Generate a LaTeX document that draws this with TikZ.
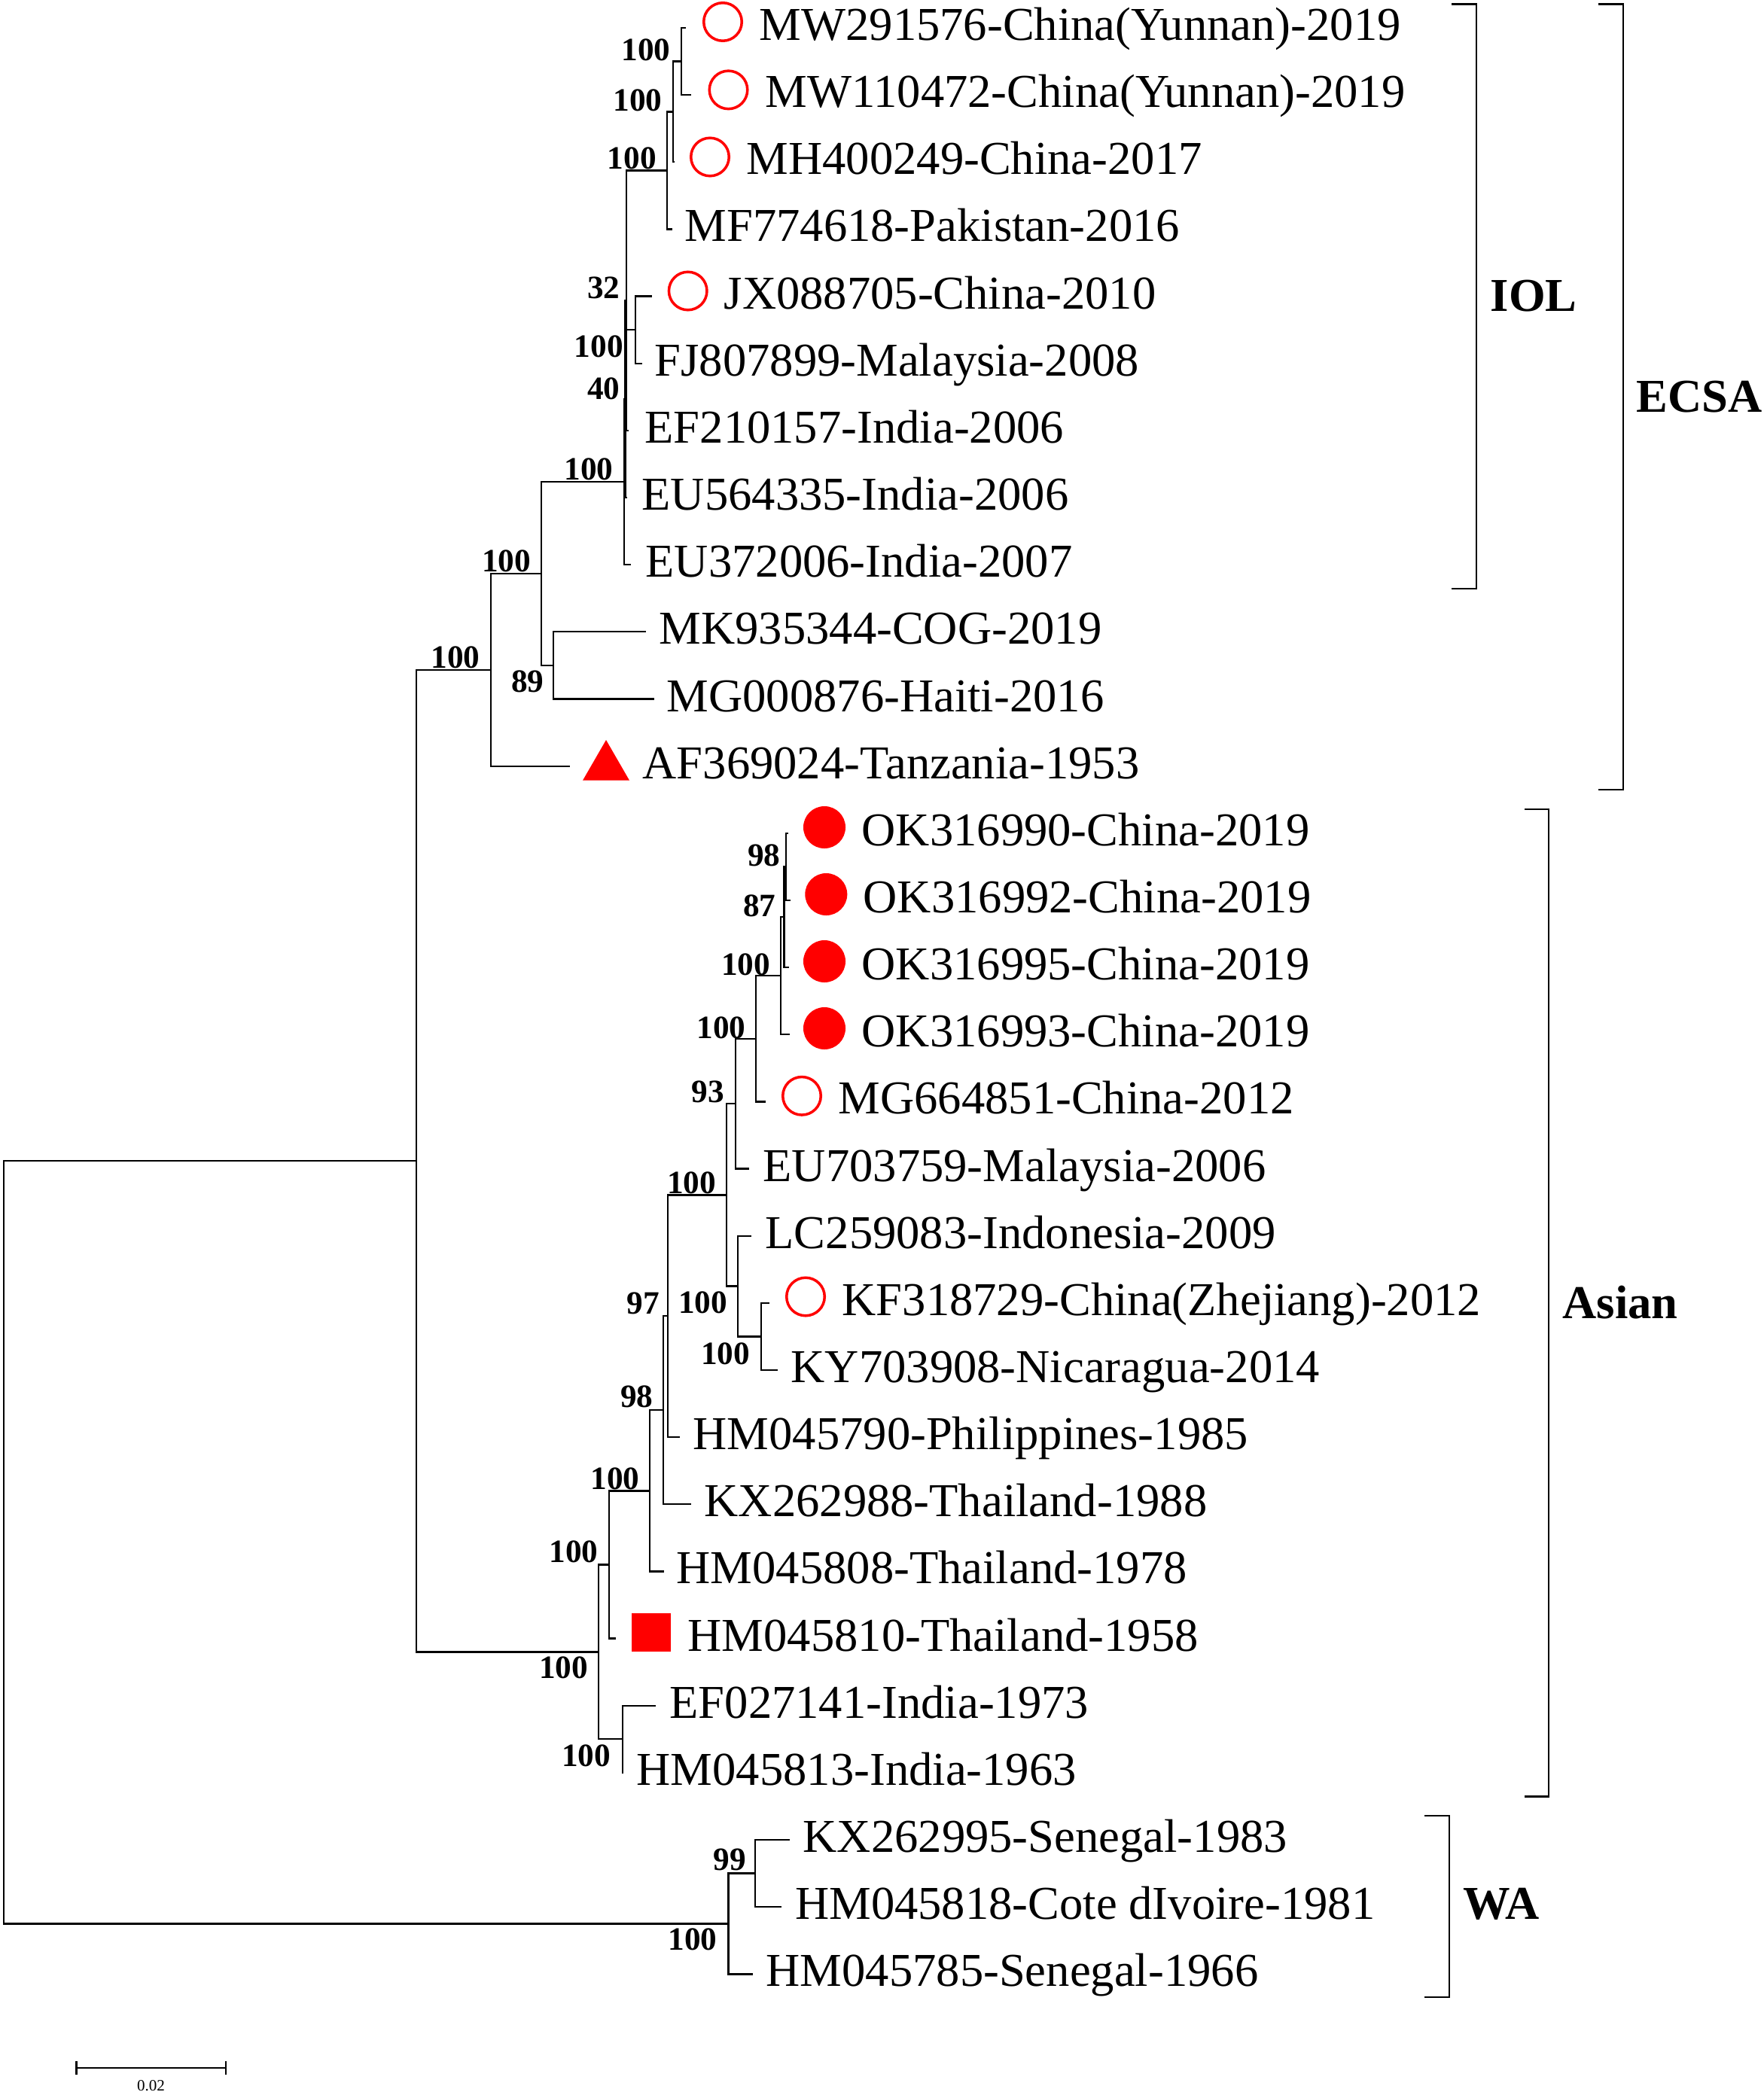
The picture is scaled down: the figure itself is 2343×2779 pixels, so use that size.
\documentclass[tikz,border=0pt]{standalone}
\usepackage{fontspec}
\setmainfont{Liberation Serif}
\usetikzlibrary{shapes.geometric}

\begin{document}
\begin{tikzpicture}[x=0.01cm, y=-0.01cm,
    br/.style={line width=.65pt},
    taxon/.style={anchor=base west, inner sep=0pt, font=\fontsize{17.8}{20}\selectfont},
    boot/.style={anchor=east, inner sep=0pt, font=\bfseries\fontsize{12.3}{14}\selectfont},
    clade/.style={anchor=base west, inner sep=0pt, font=\bfseries\fontsize{17.8}{20}\selectfont},
    opendot/.style={circle, draw=red, line width=1pt, minimum size=.505cm, inner sep=0pt},
    fulldot/.style={circle, fill=red, minimum size=.56cm, inner sep=0pt},
    tri/.style={regular polygon, regular polygon sides=3, fill=red, minimum size=.716cm, inner sep=0pt},
    sq/.style={rectangle, fill=red, minimum width=.525cm, minimum height=.51cm, inner sep=0pt}]
    \useasboundingbox (0,0) rectangle (2343,2779);

        %%tips
        \coordinate (e0) at (911,37);
        \coordinate (e1) at (918,126.15);
        \coordinate (e2) at (896,215.3);
        \coordinate (e3) at (893,304.45);
        \coordinate (e4) at (866,393.6);
        \coordinate (e5) at (853,482.75);
        \coordinate (e6) at (835,571.9);
        \coordinate (e7) at (833,661.05);
        \coordinate (e8) at (838,750.2);
        \coordinate (e9) at (858,839.35);
        \coordinate (e10) at (869,928.5);
        \coordinate (e11) at (757,1017.65);
        \coordinate (e12) at (1046.6,1106.8);
        \coordinate (e13) at (1050,1195.95);
        \coordinate (e14) at (1048,1285.1);
        \coordinate (e15) at (1048.5,1374.25);
        \coordinate (e16) at (1016.7,1463.4);
        \coordinate (e17) at (995,1552.55);
        \coordinate (e18) at (998,1641.7);
        \coordinate (e19) at (1022,1730.85);
        \coordinate (e20) at (1032.7,1820);
        \coordinate (e21) at (902.7,1909.15);
        \coordinate (e22) at (918,1998.3);
        \coordinate (e23) at (881.7,2087.45);
        \coordinate (e24) at (818.3,2176.6);
        \coordinate (e25) at (870.7,2265.75);
        \coordinate (e26) at (828,2354.9);
        \coordinate (e27) at (1049,2444.05);
        \coordinate (e28) at (1037.5,2533.2);
        \coordinate (e29) at (1000,2622.35);

        %%inner nodes
        \coordinate (mw) at (905,81.6);
        \coordinate (pp) at (894,148.45);
        \coordinate (p) at (886,226.45);
        \coordinate (njf) at (844,438.2);
        \coordinate (n32) at (832,399.2);
        \coordinate (n40) at (830.5,530.1);
        \coordinate (iol) at (829,640.15);
        \coordinate (nmk) at (735,883.9);
        \coordinate (na) at (719,762);
        \coordinate (ecsa) at (652,889.8);
        \coordinate (n98) at (1044,1151.4);
        \coordinate (n87) at (1041.6,1218.25);
        \coordinate (nc) at (1037,1296.25);
        \coordinate (nd) at (1003.7,1379.8);
        \coordinate (n93) at (977,1466.2);
        \coordinate (nkk) at (1011,1775.4);
        \coordinate (nlk) at (980,1708.55);
        \coordinate (ne) at (965,1587.4);
        \coordinate (n97) at (886.7,1748.3);
        \coordinate (nb98) at (881,1873.3);
        \coordinate (nf) at (863.3,1980.4);
        \coordinate (ng) at (809,2078.5);
        \coordinate (nind) at (826.7,2310.3);
        \coordinate (asia) at (795,2194.4);
        \coordinate (ea) at (553,1542.1);
        \coordinate (n99) at (1003,2488.6);
        \coordinate (wa) at (967.5,2555.5);
        \coordinate (root) at (5,2048.8);

        %%root
        \draw[br] (root) |- (ea) (root) |- (wa);
        \draw[br] (ea) |- (ecsa) (ea) |- (asia);

        %%ECSA
        \draw[br] (ecsa) |- (na) (ecsa) |- (e11);
        \draw[br] (na) |- (iol) (na) |- (nmk);
        \draw[br] (nmk) |- (e9) (nmk) |- (e10);
        \draw[br] (iol) |- (n40) (iol) |- (e8);
        \draw[br] (n40) |- (n32) (n40) |- (e7);
        \draw[br] (n32) |- (p) (n32) |- (njf) (n32) |- (e6);
        \draw[br] (njf) |- (e4) (njf) |- (e5);
        \draw[br] (p) |- (pp) (p) |- (e3);
        \draw[br] (pp) |- (mw) (pp) |- (e2);
        \draw[br] (mw) |- (e0) (mw) |- (e1);

        %%Asian
        \draw[br] (asia) |- (ng) (asia) |- (nind);
        \draw[br] (nind) |- (e25) (nind) |- (e26);
        \draw[br] (ng) |- (nf) (ng) |- (e24);
        \draw[br] (nf) |- (nb98) (nf) |- (e23);
        \draw[br] (nb98) |- (n97) (nb98) |- (e22);
        \draw[br] (n97) |- (ne) (n97) |- (e21);
        \draw[br] (ne) |- (n93) (ne) |- (nlk);
        \draw[br] (nlk) |- (e18) (nlk) |- (nkk);
        \draw[br] (nkk) |- (e19) (nkk) |- (e20);
        \draw[br] (n93) |- (nd) (n93) |- (e17);
        \draw[br] (nd) |- (nc) (nd) |- (e16);
        \draw[br] (nc) |- (n87) (nc) |- (e15);
        \draw[br] (n87) |- (n98) (n87) |- (e14);
        \draw[br] (n98) |- (e12) (n98) |- (e13);

        %%WA
        \draw[br] (wa) |- (n99) (wa) |- (e29);
        \draw[br] (n99) |- (e27) (n99) |- (e28);

        %%bootstrap
        \node[boot] (b-mw) at (891,66.3) {100};
        \node[boot] (b-pp) at (880,133) {100};
        \node[boot] (b-p) at (872.4,210.5) {100};
        \node[boot] (b-32) at (824,382.7) {32};
        \node[boot] (b-jf) at (828.5,460.4) {100};
        \node[boot] (b-40) at (824,516.6) {40};
        \node[boot] (b-iol) at (815,623.7) {100};
        \node[boot] (b-na) at (705.7,745.8) {100};
        \node[boot] (b-ecsa) at (638.3,873.7) {100};
        \node[boot] (b-mk) at (723.3,905.5) {89};
        \node[boot] (b-98a) at (1037,1136) {98};
        \node[boot] (b-87) at (1031.3,1203.5) {87};
        \node[boot] (b-nc) at (1023.6,1281) {100};
        \node[boot] (b-nd) at (991,1365.4) {100};
        \node[boot] (b-93) at (962.4,1450.5) {93};
        \node[boot] (b-ne) at (951.7,1571) {100};
        \node[boot] (b-lk) at (966.7,1730) {100};
        \node[boot] (b-kk) at (996.7,1798) {100};
        \node[boot] (b-97) at (876.7,1731.4) {97};
        \node[boot] (b-98b) at (868.3,1855.7) {98};
        \node[boot] (b-nf) at (850,1964) {100};
        \node[boot] (b-ng) at (795,2061.5) {100};
        \node[boot] (b-asia) at (781.7,2215) {100};
        \node[boot] (b-ind) at (811.7,2332) {100};
        \node[boot] (b-99) at (991.6,2470.8) {99};
        \node[boot] (b-wa) at (953.3,2576.7) {100};

        %%marks
        \node[opendot] (s0) at (960,29) {};
        \node[opendot] (s1) at (967.5,119.4) {};
        \node[opendot] (s2) at (943,208.5) {};
        \node[opendot] (s4) at (913.7,386.5) {};
        \node[tri] (s11) at (805,1018.8) {};
        \node[fulldot] (s12) at (1095,1099) {};
        \node[fulldot] (s13) at (1097.3,1188) {};
        \node[fulldot] (s14) at (1095,1277) {};
        \node[fulldot] (s15) at (1095,1366) {};
        \node[opendot] (s16) at (1065,1455.8) {};
        \node[opendot] (s19) at (1070,1722.5) {};
        \node[sq] (s24) at (865,2168.5) {};

        %%taxa
        \node[taxon] (MW291576) at (1008,53.5) {MW291576-China(Yunnan)-2019};
        \node[taxon] (MW110472) at (1016,142.65) {MW110472-China(Yunnan)-2019};
        \node[taxon] (MH400249) at (991,231.8) {MH400249-China-2017};
        \node[taxon] (MF774618) at (909,320.95) {MF774618-Pakistan-2016};
        \node[taxon] (JX088705) at (961,410.1) {JX088705-China-2010};
        \node[taxon] (FJ807899) at (869,499.25) {FJ807899-Malaysia-2008};
        \node[taxon] (EF210157) at (856,588.4) {EF210157-India-2006};
        \node[taxon] (EU564335) at (852,677.55) {EU564335-India-2006};
        \node[taxon] (EU372006) at (857,766.7) {EU372006-India-2007};
        \node[taxon] (MK935344) at (875,855.85) {MK935344-COG-2019};
        \node[taxon] (MG000876) at (885,945) {MG000876-Haiti-2016};
        \node[taxon] (AF369024) at (853,1034.15) {AF369024-Tanzania-1953};
        \node[taxon] (OK316990) at (1144,1123.3) {OK316990-China-2019};
        \node[taxon] (OK316992) at (1146,1212.45) {OK316992-China-2019};
        \node[taxon] (OK316995) at (1144,1301.6) {OK316995-China-2019};
        \node[taxon] (OK316993) at (1144,1390.75) {OK316993-China-2019};
        \node[taxon] (MG664851) at (1113,1479.9) {MG664851-China-2012};
        \node[taxon] (EU703759) at (1013,1569.05) {EU703759-Malaysia-2006};
        \node[taxon] (LC259083) at (1016,1658.2) {LC259083-Indonesia-2009};
        \node[taxon] (KF318729) at (1118,1747.35) {KF318729-China(Zhejiang)-2012};
        \node[taxon] (KY703908) at (1050,1836.5) {KY703908-Nicaragua-2014};
        \node[taxon] (HM045790) at (920,1925.65) {HM045790-Philippines-1985};
        \node[taxon] (KX262988) at (935,2014.8) {KX262988-Thailand-1988};
        \node[taxon] (HM045808) at (898,2103.95) {HM045808-Thailand-1978};
        \node[taxon] (HM045810) at (913,2193.1) {HM045810-Thailand-1958};
        \node[taxon] (EF027141) at (889,2282.25) {EF027141-India-1973};
        \node[taxon] (HM045813) at (845,2371.4) {HM045813-India-1963};
        \node[taxon] (KX262995) at (1066,2460.55) {KX262995-Senegal-1983};
        \node[taxon] (HM045818) at (1055.5,2549.7) {HM045818-Cote dIvoire-1981};
        \node[taxon] (HM045785) at (1017,2638.85) {HM045785-Senegal-1966};

        %%clades
        \coordinate (iol-a) at (1928,5.5);
        \coordinate (iol-b) at (1961,781.7);
        \coordinate (iol-c) at (1928,781.7);
        \draw[br] (iol-a) -| (iol-b) -- (iol-c);
        \coordinate (ecsa-a) at (2122.7,5.5);
        \coordinate (ecsa-b) at (2155.7,1049);
        \coordinate (ecsa-c) at (2122.7,1049);
        \draw[br] (ecsa-a) -| (ecsa-b) -- (ecsa-c);
        \coordinate (asia-a) at (2025,1075);
        \coordinate (asia-b) at (2057.3,2386.6);
        \coordinate (asia-c) at (2025,2386.6);
        \draw[br] (asia-a) -| (asia-b) -- (asia-c);
        \coordinate (wa-a) at (1892,2411.7);
        \coordinate (wa-b) at (1925,2653);
        \coordinate (wa-c) at (1892,2653);
        \draw[br] (wa-a) -| (wa-b) -- (wa-c);

        \node[clade] (IOL) at (1979,413) {IOL};
        \node[clade] (ECSA) at (2173,547.5) {ECSA};
        \node[clade] (Asian) at (2075,1751) {Asian};
        \node[clade] (WA) at (1943,2549) {WA};

        %%scale
        \coordinate (sb-l) at (101.7,2747);
        \coordinate (sb-r) at (300,2747);
        \draw[line width=.8pt] (sb-l) -- (sb-r);
        \draw[line width=.8pt] (101.7,2738) -- (101.7,2756) (300,2738) -- (300,2756);
        \node[inner sep=0pt, font=\fontsize{6}{7}\selectfont] (sb) at (200.5,2771) {0.02};

      \end{tikzpicture}
\end{document}
